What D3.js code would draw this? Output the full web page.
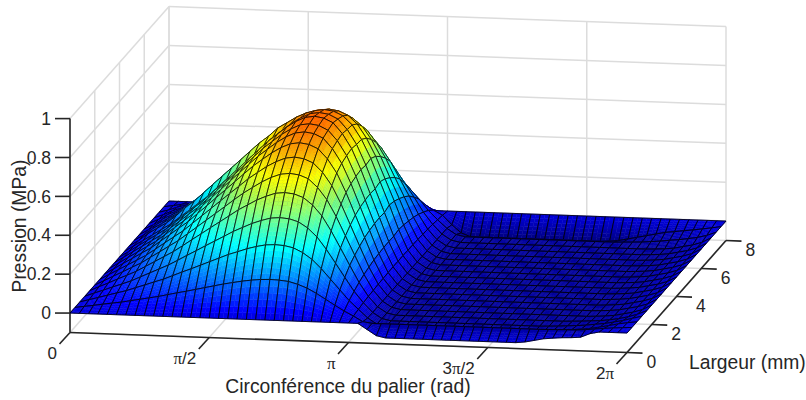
<!DOCTYPE html>
<html>
<head>
<meta charset="utf-8">
<script src="https://cdn.jsdelivr.net/npm/d3@7"></script>
<style>
  body { margin: 0; background: #fff; }
  text { font-family: "Liberation Sans", Arial, sans-serif; fill: #262626; }
</style>
</head>
<body>
<script>
const PI = Math.PI;

// axis ticks
const thetaTicks = [0, PI / 2, PI, 3 * PI / 2, 2 * PI];
const thetaTickLabels = [["0"], ["π", "/2"], ["π"], ["3", "π", "/2"], ["2", "π"]];
const widthTicks = [0, 2, 4, 6, 8];
const pressureTicks = [0, 0.2, 0.4, 0.6, 0.8, 1];
const pressureTickLabels = ["0", "0.2", "0.4", "0.6", "0.8", "1"];

// grid of the surface: 61 columns around, 21 rows across
const thetaCount = 60;
const widthStep = 0.4;

// ends of the rows, from column 31 to column 60 (cavitated zone)
const tail0 = [0,-.03,-.06,-.07,-.07,-.07,-.07,-.07,-.07,-.07,-.07,-.07,-.07,-.07,-.07,-.07,-.07,-.07,-.065,-.055,-.045,-.04,-.036,-.034,-.03,-.01,0,0,0,0];
const tail1 = [-.02,-.027,-.027,-.027,-.027,-.027,-.027,-.027,-.027,-.027,-.027,-.027,-.027,-.027,-.027,-.027,-.027,-.027,-.027,-.027,-.026,-.025,-.024,-.023,-.02,-.015,-.01,-.006,-.003,0];
const tail2 = [-.03,-.06,-.07,-.07,-.07,-.07,-.07,-.07,-.07,-.07,-.07,-.07,-.07,-.07,-.07,-.07,-.07,-.07,-.068,-.065,-.06,-.056,-.052,-.048,-.042,-.034,-.024,-.014,-.006,0];
const tail3 = [-.03,-.06,-.07,-.07,-.07,-.07,-.07,-.07,-.07,-.07,-.07,-.07,-.07,-.07,-.07,-.07,-.07,-.07,-.07,-.068,-.066,-.063,-.06,-.056,-.05,-.044,-.035,-.025,-.012,0];
const tail4 = [-.03,-.06,-.07,-.07,-.07,-.07,-.07,-.07,-.07,-.07,-.07,-.07,-.07,-.07,-.07,-.07,-.07,-.07,-.07,-.07,-.07,-.068,-.066,-.063,-.06,-.054,-.046,-.035,-.02,0];
const tailMid = [-.03,-.06,-.07,-.07,-.07,-.07,-.07,-.07,-.07,-.07,-.07,-.07,-.07,-.07,-.07,-.07,-.07,-.07,-.07,-.07,-.07,-.07,-.07,-.068,-.065,-.06,-.05,-.04,-.025,0];
const tail18 = [-.03,-.06,-.07,-.07,-.07,-.07,-.07,-.07,-.07,-.07,-.07,-.07,-.07,-.07,-.07,-.07,-.07,-.07,-.07,-.068,-.066,-.064,-.06,-.056,-.05,-.045,-.038,-.03,-.018,0];
const tail19 = [-.04,-.08,-.098,-.098,-.098,-.098,-.098,-.098,-.098,-.098,-.098,-.098,-.098,-.098,-.098,-.098,-.098,-.095,-.09,-.08,-.07,-.06,-.05,-.04,-.034,-.028,-.022,-.015,-.008,0];

// pressure (MPa), one line per row of width
const pressure = [
  [0,0,0,0,0,0,0,0,0,0,0,0,0,0,0,0,0,0,0,0,0,0,0,0,0,0,0,0,0,0,0, ...tail0],
  [0,.007,.014,.022,.029,.036,.045,.054,.063,.072,.083,.094,.104,.115,.126,.137,.148,.157,.166,.173,.178,.18,.178,.173,.16,.142,.117,.088,.059,.031,.007, ...tail1],
  [0,.013,.026,.04,.053,.066,.083,.099,.116,.132,.152,.172,.191,.211,.231,.251,.271,.287,.304,.317,.327,.33,.327,.317,.294,.261,.215,.162,.109,.056,.013, ...tail2],
  [0,.018,.035,.053,.07,.088,.11,.132,.154,.176,.202,.229,.255,.282,.308,.334,.361,.383,.405,.422,.436,.44,.436,.422,.392,.348,.286,.216,.145,.075,.018, ...tail3],
  [0,.022,.043,.065,.086,.108,.135,.162,.189,.216,.248,.281,.313,.346,.378,.41,.443,.47,.497,.518,.535,.54,.535,.518,.481,.427,.351,.265,.178,.092,.022, ...tail4],
  [0,.024,.049,.073,.098,.122,.153,.183,.214,.244,.281,.317,.354,.39,.427,.464,.5,.531,.561,.586,.604,.61,.604,.586,.543,.482,.397,.299,.201,.104,.024, ...tailMid],
  [0,.027,.053,.08,.106,.133,.166,.2,.233,.266,.306,.346,.386,.426,.466,.505,.545,.579,.612,.638,.658,.665,.658,.638,.592,.525,.432,.326,.219,.113,.027, ...tailMid],
  [0,.028,.057,.085,.114,.142,.178,.213,.249,.284,.327,.369,.412,.454,.497,.54,.582,.618,.653,.682,.703,.71,.703,.682,.632,.561,.462,.348,.234,.121,.028, ...tailMid],
  [0,.029,.059,.088,.118,.147,.184,.221,.258,.295,.339,.383,.427,.472,.516,.56,.604,.641,.678,.708,.73,.737,.73,.708,.656,.582,.479,.361,.243,.125,.029, ...tailMid],
  [0,.03,.06,.09,.12,.15,.188,.225,.263,.3,.345,.39,.435,.48,.525,.57,.615,.653,.69,.72,.743,.75,.743,.72,.668,.593,.488,.368,.248,.128,.03, ...tailMid],
  [0,.03,.061,.091,.122,.152,.19,.228,.266,.304,.35,.395,.441,.486,.532,.578,.623,.661,.699,.73,.752,.76,.752,.73,.676,.6,.494,.372,.251,.129,.03, ...tailMid],
  [0,.03,.06,.09,.12,.15,.188,.225,.263,.3,.345,.39,.435,.48,.525,.57,.615,.653,.69,.72,.743,.75,.743,.72,.668,.593,.488,.368,.248,.128,.03, ...tailMid],
  [0,.029,.066,.096,.125,.162,.206,.243,.287,.332,.376,.42,.464,.509,.553,.59,.634,.663,.693,.715,.73,.737,.73,.708,.663,.59,.494,.376,.258,.133,.029, ...tailMid],
  [0,.028,.064,.092,.121,.156,.199,.234,.277,.32,.362,.405,.447,.49,.533,.568,.611,.639,.667,.689,.703,.71,.703,.682,.639,.568,.476,.362,.249,.128,.028, ...tailMid],
  [0,.027,.06,.086,.113,.146,.186,.219,.259,.299,.339,.379,.419,.459,.499,.532,.572,.599,.625,.645,.658,.665,.658,.638,.599,.532,.446,.339,.233,.12,.027, ...tailMid],
  [0,.024,.055,.079,.104,.134,.171,.201,.238,.275,.311,.348,.384,.421,.458,.488,.525,.549,.573,.592,.604,.61,.604,.586,.549,.488,.409,.311,.214,.11,.024, ...tailMid],
  [0,.022,.049,.07,.092,.119,.151,.178,.211,.243,.275,.308,.34,.373,.405,.432,.464,.486,.508,.524,.535,.54,.535,.518,.486,.432,.362,.275,.189,.097,.022, ...tailMid],
  [0,.018,.04,.057,.075,.097,.123,.145,.172,.198,.224,.251,.277,.304,.33,.352,.378,.396,.414,.427,.436,.44,.436,.422,.396,.352,.295,.224,.154,.079,.018, ...tailMid],
  [0,.013,.03,.043,.056,.073,.092,.109,.129,.149,.168,.188,.208,.228,.248,.264,.284,.297,.31,.32,.327,.33,.327,.317,.297,.264,.221,.168,.116,.059,.013, ...tail18],
  [0,.007,.016,.023,.031,.04,.05,.059,.07,.081,.092,.103,.113,.124,.135,.144,.155,.162,.169,.175,.178,.18,.178,.173,.162,.144,.121,.092,.063,.032,.007, ...tail19],
  [0,0,0,0,0,0,0,0,0,0,0,0,0,0,0,0,0,0,0,0,0,0,0,0,0,0,0,0,0,0,0,0,0,0,0,0,0,0,0,0,0,0,0,0,0,0,0,0,0,0,0,0,0,0,0,0,0,0,0,0,0]
];

// jet colormap, limits are the z limits of the axes
const jetStops = [0, 0.125, 0.375, 0.625, 0.875, 1];
const jetColors = ["#000080", "#0000ff", "#00ffff", "#ffff00", "#ff0000", "#800000"];
const zMin = -0.1, zMax = 1;

const width = 806, height = 400;

// oblique projection, same as the orthographic view of the figure
const thetaX = d3.scaleLinear().domain([0, 2 * PI]).range([0, 557]);
const thetaY = d3.scaleLinear().domain([0, 2 * PI]).range([0, 20]);
const widthX = d3.scaleLinear().domain([0, 8]).range([0, 99]);
const widthY = d3.scaleLinear().domain([0, 8]).range([0, -112]);
const zY = d3.scaleLinear().domain([zMin, zMax]).range([0, -213.9]);

function project(th, w, z) {
  return [70 + thetaX(th) + widthX(w), 332.5 + thetaY(th) + widthY(w) + zY(z)];
}

const jet = d3.scaleLinear()
  .domain(jetStops.map(s => zMin + s * (zMax - zMin)))
  .range(jetColors);

const svg = d3.select("body").append("svg")
  .attr("width", width)
  .attr("height", height);

const gridColor = "#dcdcdc";
const axisColor = "#262626";

function drawLine(g, a, b, color, w) {
  g.append("line")
    .attr("x1", a[0]).attr("y1", a[1])
    .attr("x2", b[0]).attr("y2", b[1])
    .attr("stroke", color)
    .attr("stroke-width", w);
}

// walls and floor
const gridG = svg.append("g");
thetaTicks.forEach(t => {
  drawLine(gridG, project(t, 0, zMin), project(t, 8, zMin), gridColor, 1.5);
  drawLine(gridG, project(t, 8, zMin), project(t, 8, zMax), gridColor, 1.5);
});
widthTicks.forEach(w => {
  drawLine(gridG, project(0, w, zMin), project(2 * PI, w, zMin), gridColor, 1.5);
  drawLine(gridG, project(0, w, zMin), project(0, w, zMax), gridColor, 1.5);
});
pressureTicks.forEach(z => {
  drawLine(gridG, project(0, 0, z), project(0, 8, z), gridColor, 1.5);
  drawLine(gridG, project(0, 8, z), project(2 * PI, 8, z), gridColor, 1.5);
});

// axes and ticks
const axisG = svg.append("g");
drawLine(axisG, project(0, 0, zMin), project(0, 0, 1), axisColor, 1.6);
drawLine(axisG, project(0, 0, zMin), project(2 * PI, 0, zMin), axisColor, 1.6);
drawLine(axisG, project(2 * PI, 0, zMin), project(2 * PI, 8, zMin), axisColor, 1.6);

pressureTicks.forEach((z, i) => {
  const p = project(0, 0, z);
  drawLine(axisG, [p[0] - 15, p[1]], p, axisColor, 1.6);
  axisG.append("text")
    .attr("x", p[0] - 19).attr("y", p[1])
    .attr("dy", "0.35em")
    .attr("text-anchor", "end")
    .style("font-size", "17.5px")
    .text(pressureTickLabels[i]);
});

thetaTicks.forEach((t, i) => {
  const p = project(t, 0, zMin);
  drawLine(axisG, p, [p[0] - 10.5, p[1] + 11.5], axisColor, 1.6);
  axisG.append("text")
    .attr("x", p[0] - 13).attr("y", p[1] + 21)
    .attr("dy", "0.35em")
    .attr("text-anchor", "end")
    .style("font-size", "17px")
    .selectAll("tspan")
    .data(thetaTickLabels[i])
    .join("tspan")
    .style("font-family", d => d === "π" ? "'Liberation Serif', serif" : null)
    .text(d => d);
});

widthTicks.forEach(w => {
  const p = project(2 * PI, w, zMin);
  drawLine(axisG, p, [p[0] + 15.5, p[1] + 0.6], axisColor, 1.6);
  axisG.append("text")
    .attr("x", p[0] + 19.5).attr("y", p[1] + 9)
    .attr("dy", "0.35em")
    .style("font-size", "17.5px")
    .text(w);
});

// surface, painted from the back row to the front row
function colorValue(j, i) {
  if (j === 0) return 0;
  if (j === 1 && i >= 32 && i <= 55) return -0.06;
  return pressure[j][i];
}

function lerp(a, b, f) { return a + (b - a) * f; }

const thetaAt = i => i * 2 * PI / thetaCount;
const widthAt = j => j * widthStep;
const subU = 2, subV = 6;

const facets = [];
for (let j = pressure.length - 2; j >= 0; j--) {
  for (let i = 0; i < thetaCount; i++) {
    const zs = [pressure[j][i], pressure[j][i + 1], pressure[j + 1][i + 1], pressure[j + 1][i]];
    const cs = [colorValue(j, i), colorValue(j, i + 1), colorValue(j + 1, i + 1), colorValue(j + 1, i)];
    const at = (u, v) => {
      const th = lerp(thetaAt(i), thetaAt(i + 1), u);
      const w = lerp(widthAt(j), widthAt(j + 1), v);
      const z = lerp(lerp(zs[0], zs[1], u), lerp(zs[3], zs[2], u), v);
      const c = lerp(lerp(cs[0], cs[1], u), lerp(cs[3], cs[2], u), v);
      return { p: project(th, w, z), c: c };
    };
    for (let a = 0; a < subU; a++) {
      for (let b = 0; b < subV; b++) {
        const u0 = a / subU, u1 = (a + 1) / subU, v0 = b / subV, v1 = (b + 1) / subV;
        facets.push({
          pts: [at(u0, v0).p, at(u1, v0).p, at(u1, v1).p, at(u0, v1).p],
          color: jet(at((u0 + u1) / 2, (v0 + v1) / 2).c),
          edge: false
        });
      }
    }
    facets.push({
      pts: [at(0, 0).p, at(1, 0).p, at(1, 1).p, at(0, 1).p],
      color: "none",
      edge: true
    });
  }
}

const polyLine = d3.line().curve(d3.curveLinearClosed);

svg.append("g").selectAll("path")
  .data(facets)
  .join("path")
  .attr("d", d => polyLine(d.pts))
  .attr("fill", d => d.color)
  .attr("stroke", d => d.edge ? "#000" : d.color)
  .attr("stroke-width", d => d.edge ? 0.8 : 0.5)
  .attr("stroke-linejoin", "round");

// axis titles
svg.append("text")
  .attr("transform", "translate(19,226) rotate(-90)")
  .attr("dy", "0.35em")
  .attr("text-anchor", "middle")
  .style("font-size", "19.3px")
  .text("Pression (MPa)");

svg.append("text")
  .attr("x", 348).attr("y", 386)
  .attr("dy", "0.35em")
  .attr("text-anchor", "middle")
  .style("font-size", "19.3px")
  .text("Circonférence du palier (rad)");

svg.append("text")
  .attr("x", 689).attr("y", 362)
  .attr("dy", "0.35em")
  .style("font-size", "19.3px")
  .text("Largeur (mm)");
</script>
</body>
</html>
